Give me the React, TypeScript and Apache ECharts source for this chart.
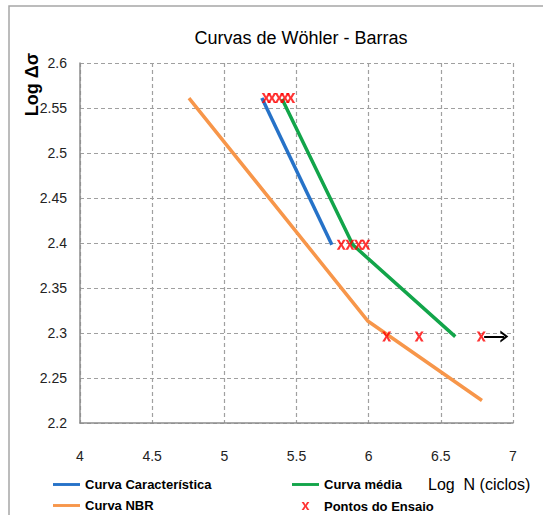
import React, { useEffect, useRef } from "react";
import * as echarts from "echarts";

const xTicks = [4, 4.5, 5, 5.5, 6, 6.5, 7];
const yTicks = [2.2, 2.25, 2.3, 2.35, 2.4, 2.45, 2.5, 2.55, 2.6];

const caracX = [5.26, 5.745];
const caracY = [2.561, 2.398];

const mediaX = [5.4, 5.89, 6.6];
const mediaY = [2.56, 2.398, 2.296];

const nbrX = [4.755, 5.996, 6.785];
const nbrY = [2.561, 2.313, 2.225];

const ensaioX = [5.29, 5.33, 5.38, 5.42, 5.46, 5.81, 5.87, 5.93, 5.98, 6.125, 6.35, 6.78];
const ensaioY = [2.561, 2.561, 2.561, 2.561, 2.561, 2.398, 2.398, 2.398, 2.398, 2.296, 2.296, 2.296];

const arrowX = [6.8, 6.94];
const arrowY = [2.296, 2.296];

const FONT = "'Liberation Sans Narrow', 'Arial Narrow', 'Liberation Sans', Arial, sans-serif";
const XPATH = "path://M0,0 L3,0 L5,3.5 L7,0 L10,0 L6.5,5 L10,10 L7,10 L5,6.5 L3,10 L0,10 L3.5,5 Z";
const XPATH_LEGEND = "path://M-4,-4 L-4,-4 M14,14 L14,14 M0,0 L3,0 L5,3.5 L7,0 L10,0 L6.5,5 L10,10 L7,10 L5,6.5 L3,10 L0,10 L3.5,5 Z";
const LINE_LEGEND = "path://M0,0 L28,0 L28,3 L0,3 Z";
const ARROWHEAD = "path://M0,10 L5,0 L10,10 L8,10 L5,4 L2,10 Z";

const zip = (xs: number[], ys: number[]) => xs.map((x, i) => [x, ys[i]]);

export default function App() {
  const ref = useRef<HTMLDivElement>(null);
  useEffect(() => {
    if (!ref.current) return;
    const chart = echarts.init(ref.current, null, { renderer: "svg" });
    const legendText = { fontFamily: FONT, fontSize: 13, fontWeight: "bold" as const, color: "#000" };
    const legendBase = {
      orient: "vertical" as const,
      top: 478,
      padding: 0,
      itemWidth: 27,
      itemHeight: 14,
      itemGap: 8,
      symbolKeepAspect: true,
      textStyle: legendText,
    };
    chart.setOption({
      animation: false,
      backgroundColor: "#fff",
      title: [
        {
          text: "Curvas de Wöhler - Barras",
          left: 296,
          top: 24,
          textAlign: "center",
          textStyle: { fontFamily: FONT, fontSize: 18, fontWeight: "normal", color: "#000" },
        },
        {
          text: "Log  N (ciclos)",
          left: 428,
          top: 476,
          padding: 0,
          textStyle: { fontFamily: FONT, fontSize: 16, fontWeight: "normal", color: "#000" },
        },
      ],
      graphic: [
        {
          type: "rect",
          shape: { x: 9, y: 6, width: 600, height: 600 },
          style: { fill: "none", stroke: "#a6a6a6", lineWidth: 1.5 },
          silent: true,
        },
        {
          type: "text",
          x: 32,
          y: 53,
          rotation: Math.PI / 2,
          style: {
            text: "Log Δσ",
            align: "right",
            verticalAlign: "middle",
            fontFamily: "'Liberation Sans', Arial, sans-serif",
            fontSize: 18,
            fontWeight: "bold",
            fill: "#000",
          },
        },
      ],
      legend: [
        {
          ...legendBase,
          left: 53,
          data: [
            { name: "Curva Característica", icon: LINE_LEGEND },
            { name: "Curva NBR", icon: LINE_LEGEND },
          ],
        },
        {
          ...legendBase,
          left: 292,
          data: [
            { name: "Curva média", icon: LINE_LEGEND },
            { name: "Pontos do Ensaio", icon: XPATH_LEGEND },
          ],
        },
      ],
      grid: { left: 80, top: 63, width: 433, height: 360, containLabel: false },
      xAxis: {
        type: "value",
        min: xTicks[0],
        max: xTicks[xTicks.length - 1],
        interval: 0.5,
        axisLine: { show: true, lineStyle: { color: "#8c8c8c", width: 1.5 } },
        axisTick: { show: false },
        axisLabel: { margin: 26, fontFamily: FONT, fontSize: 14, color: "#222" },
        splitLine: { show: true, lineStyle: { color: "#a0a0a0", type: [4, 3], width: 1.2 } },
      },
      yAxis: {
        type: "value",
        min: yTicks[0],
        max: yTicks[yTicks.length - 1],
        interval: 0.05,
        axisLine: { show: true, lineStyle: { color: "#8c8c8c", width: 1.5 } },
        axisTick: { show: false },
        axisLabel: { margin: 13, fontFamily: FONT, fontSize: 14, color: "#222" },
        splitLine: { show: true, lineStyle: { color: "#a0a0a0", type: [4, 3], width: 1.2 } },
      },
      series: [
        {
          name: "Curva Característica",
          type: "line",
          data: zip(caracX, caracY),
          symbol: "none",
          lineStyle: { color: "#2672c8", width: 3.5 },
          itemStyle: { color: "#2672c8" },
          z: 3,
        },
        {
          name: "Curva média",
          type: "line",
          data: zip(mediaX, mediaY),
          symbol: "none",
          lineStyle: { color: "#12a54a", width: 3.5 },
          itemStyle: { color: "#12a54a" },
          z: 3,
        },
        {
          name: "Curva NBR",
          type: "line",
          data: zip(nbrX, nbrY),
          symbol: "none",
          lineStyle: { color: "#f7964a", width: 3.5 },
          itemStyle: { color: "#f7964a" },
          z: 3,
        },
        {
          name: "Pontos do Ensaio",
          type: "scatter",
          data: zip(ensaioX, ensaioY),
          symbol: XPATH,
          symbolSize: [9, 10],
          itemStyle: { color: "#ff0000" },
          z: 5,
          markLine: {
            silent: true,
            symbol: ["none", ARROWHEAD],
            symbolSize: [12, 8],
            label: { show: false },
            lineStyle: { color: "#000", width: 2, type: "solid" },
            data: [
              [
                { coord: [arrowX[0], arrowY[0]] },
                { coord: [arrowX[1], arrowY[1]] },
              ],
            ],
          },
        },
      ],
    });
    return () => chart.dispose();
  }, []);
  return (
    <div
      ref={ref}
      style={{ position: "absolute", left: 0, top: 0, width: 543, height: 515 }}
    />
  );
}
